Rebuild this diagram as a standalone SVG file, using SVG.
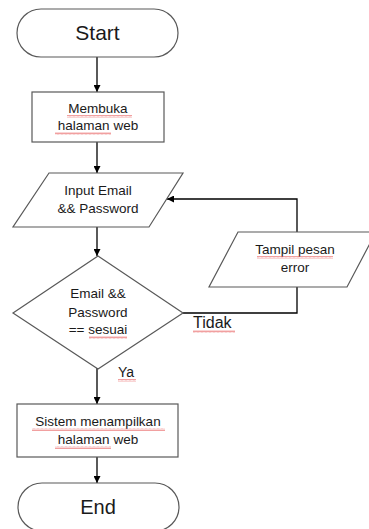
<svg xmlns="http://www.w3.org/2000/svg" width="369" height="529" viewBox="0 0 369 529">
<style>
.shape{fill:#fff;stroke:#595959;stroke-width:1.2}
.conn{fill:none;stroke:#000;stroke-width:1.3}
text{font-family:"Liberation Sans",Arial,sans-serif;fill:#1a1a1a;text-anchor:middle}
.t14{font-size:13.5px}
.lbl{text-anchor:start}
</style>
<defs>
<marker id="ah" viewBox="0 0 10 10" refX="10" refY="5" markerWidth="7" markerHeight="7" orient="auto" markerUnits="userSpaceOnUse">
<path d="M0,0 L10,5 L0,10 z" fill="#000"/>
</marker>
<pattern id="sq" width="4" height="3" patternUnits="userSpaceOnUse">
<path d="M0,2.5 L1,0.5 L2,2.5 L3,0.5 L4,2.5" fill="none" stroke="#e86060" stroke-width="0.6"/>
</pattern>
</defs>
<rect width="369" height="529" fill="#fff"/>
<g id="connectors">
<line class="conn" x1="97" y1="57" x2="97" y2="92" marker-end="url(#ah)"/>
<line class="conn" x1="97" y1="142" x2="97" y2="173" marker-end="url(#ah)"/>
<line class="conn" x1="97" y1="227" x2="97" y2="256" marker-end="url(#ah)"/>
<line class="conn" x1="97" y1="368" x2="97" y2="404" marker-end="url(#ah)"/>
<line class="conn" x1="97" y1="457" x2="97" y2="483" marker-end="url(#ah)"/>
<polyline class="conn" points="183,313 297,313 297,287"/>
<polyline class="conn" points="297,232 297,199 167,199" marker-end="url(#ah)"/>
<text class="lbl" x="193" y="328" style="font-size:16px">Tidak</text>
<rect x="193" y="330" width="42" height="3" fill="url(#sq)"/>
<text class="lbl" x="118" y="377" style="font-size:14px">Ya</text>
<rect x="118" y="379" width="18" height="3" fill="url(#sq)"/>
</g>
<g id="start">
<rect class="shape" x="17" y="9" width="161" height="48" rx="24"/>
<text x="97.5" y="40" style="font-size:21px">Start</text>
</g>
<g id="membuka">
<rect class="shape" x="32" y="92" width="132" height="50"/>
<text class="t14" x="98" y="113">Membuka</text>
<text class="t14" x="98" y="130">halaman web</text>
<rect x="67" y="115" width="65" height="3" fill="url(#sq)"/>
<rect x="55" y="132" width="56" height="3" fill="url(#sq)"/>
</g>
<g id="input">
<polygon class="shape" points="49,173 183,173 149,227 13,227"/>
<text class="t14" x="98" y="195">Input Email</text>
<text class="t14" x="98" y="213">&amp;&amp; Password</text>
</g>
<g id="decision">
<polygon class="shape" points="98,256 183,313 98,369 13,313"/>
<text class="t14" x="98" y="298">Email &amp;&amp;</text>
<text class="t14" x="98" y="317">Password</text>
<text class="t14" x="98" y="334">== sesuai</text>
<rect x="89" y="336" width="38" height="3" fill="url(#sq)"/>
</g>
<g id="error">
<polygon class="shape" points="238,232 376,232 347,287 209,287"/>
<text class="t14" x="295" y="254">Tampil pesan</text>
<text class="t14" x="295" y="272">error</text>
<rect x="257" y="256" width="76" height="3" fill="url(#sq)"/>
</g>
<g id="sistem">
<rect class="shape" x="17" y="404" width="161" height="53"/>
<text class="t14" x="98" y="426">Sistem menampilkan</text>
<text class="t14" x="98" y="444">halaman web</text>
<rect x="32" y="428" width="133" height="3" fill="url(#sq)"/>
<rect x="55" y="446" width="56" height="3" fill="url(#sq)"/>
</g>
<g id="end">
<rect class="shape" x="18" y="483" width="161" height="48" rx="24"/>
<text x="98" y="514" style="font-size:20px">End</text>
</g>
</svg>
